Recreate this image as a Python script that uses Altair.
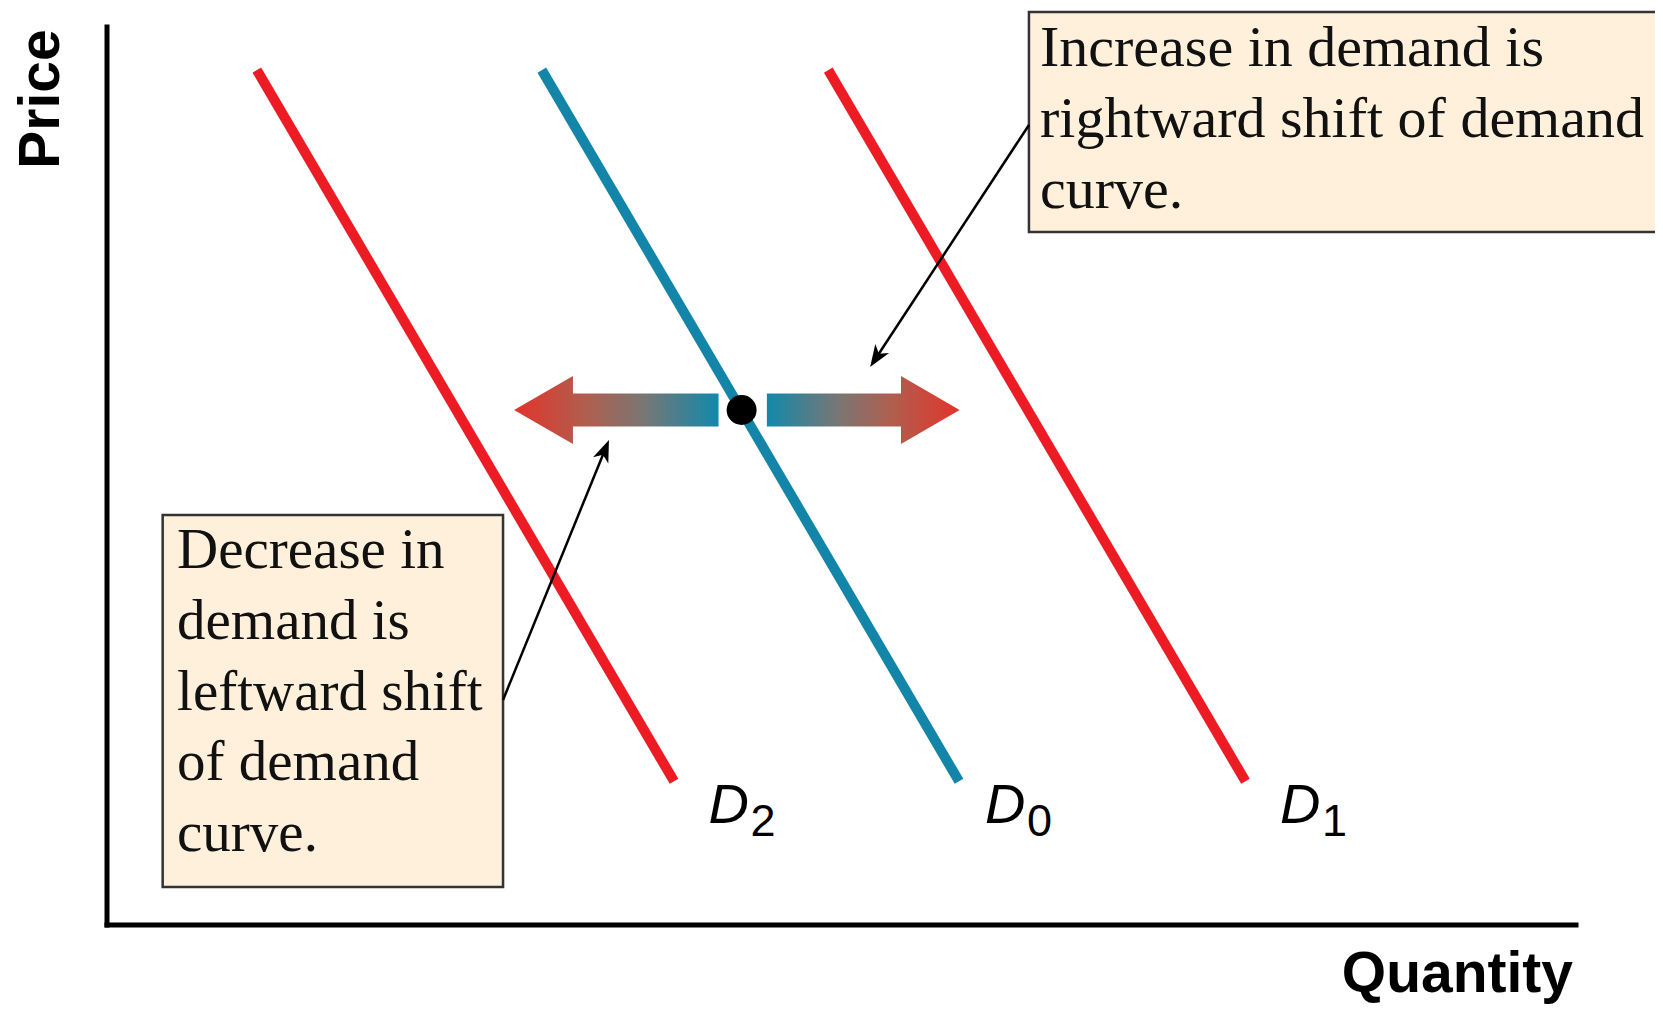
import math
import altair as alt
import pandas as pd

# ---------------- data ----------------
curve_names = ["D2", "D0", "D1"]
curve_q_top = [10.2, 29.6, 49.1]
curve_q_bottom = [38.6, 58.0, 77.5]
curve_p_top = [95.2, 95.2, 95.2]
curve_p_bottom = [16.0, 16.0, 16.0]
curve_colors = ["#ED1C24", "#1285A8", "#ED1C24"]

label_main = ["D", "D", "D"]
label_sub = ["2", "0", "1"]
label_q = [40.95, 59.77, 79.85]
label_p = [11.36, 11.36, 11.36]

eq_q = [43.2]
eq_p = [57.35]

# shift arrows (tip / head base / shaft start / shaft end), ordered by quantity
arrow_p = 57.35
arrow_shaft_half = 1.84
arrow_head_half = 3.79
left_arrow_q = [27.71, 31.72, 31.7201, 41.63]
right_arrow_q = [44.92, 54.05, 54.0501, 58.04]

# callout boxes
box_names = ["increase", "decrease"]
box_q1 = [62.76, 3.79]
box_q2 = [112.0, 26.96]
box_p1 = [77.17, 4.23]
box_p2 = [101.67, 45.66]
box_text_q = [63.51, 4.77]
box_text_p = [95.66, 39.76]
box_font_size = [58, 57]
box_lines = [
    ["Increase in demand is", "rightward shift of demand", "curve."],
    ["Decrease in", "demand is", "leftward shift", "of demand", "curve."],
]

# pointer lines: from box edge to arrow tip
pointer_q_from = [62.76, 26.96]
pointer_p_from = [89.09, 25.06]
pointer_q_to = [51.95, 34.17]
pointer_p_to = [62.14, 54.01]

x_title = "Quantity"
y_title = "Price"

# ---------------- layout ----------------
W, H = 1469, 898
PX_Q = W / 100.0
PX_P = H / 100.0

xs = alt.Scale(domain=[0, 100], nice=False, zero=False)
ys = alt.Scale(domain=[0, 100], nice=False, zero=False)


def X(f="q"):
    return alt.X(f"{f}:Q", scale=xs, axis=None)


def Y(f="p"):
    return alt.Y(f"{f}:Q", scale=ys, axis=None)


# axes lines
axes_df = pd.DataFrame({"q": [0, 0], "p": [0, 0], "q2": [0, 100], "p2": [100, 0]})
axes = alt.Chart(axes_df).mark_rule(color="black", strokeWidth=5, strokeCap="square").encode(
    x=X(), y=Y(), x2="q2:Q", y2="p2:Q"
)

# demand curves
curves_df = pd.DataFrame({
    "name": curve_names, "q": curve_q_top, "p": curve_p_top,
    "q2": curve_q_bottom, "p2": curve_p_bottom,
})
curves = alt.Chart(curves_df).mark_rule(strokeWidth=10, strokeCap="butt").encode(
    x=X(), y=Y(), x2="q2:Q", y2="p2:Q",
    color=alt.Color("name:N", scale=alt.Scale(domain=curve_names, range=curve_colors), legend=None),
)

# labels
lab_df = pd.DataFrame({"q": label_q, "p": label_p, "main": label_main, "sub": label_sub})
lab_main = alt.Chart(lab_df).mark_text(
    font="Liberation Sans", fontSize=56, fontStyle="italic", align="left", baseline="alphabetic", color="black"
).encode(x=X(), y=Y(), text="main:N")
lab_sub = alt.Chart(lab_df).mark_text(
    font="Liberation Sans", fontSize=45, align="left", baseline="alphabetic", color="black", dx=42, dy=13
).encode(x=X(), y=Y(), text="sub:N")

# shift arrows (gradient)
sh, hh, p0 = arrow_shaft_half, arrow_head_half, arrow_p
left_df = pd.DataFrame({
    "q": left_arrow_q,
    "p": [p0, p0 + hh, p0 + sh, p0 + sh],
    "p2": [p0, p0 - hh, p0 - sh, p0 - sh],
})
right_df = pd.DataFrame({
    "q": right_arrow_q,
    "p": [p0 + sh, p0 + sh, p0 + hh, p0],
    "p2": [p0 - sh, p0 - sh, p0 - hh, p0],
})
stops_red_to_blue = [
    alt.GradientStop(offset=0, color="#E3342B"),
    alt.GradientStop(offset=0.35, color="#B05E4E"),
    alt.GradientStop(offset=0.62, color="#7C7673"),
    alt.GradientStop(offset=1, color="#1189AA"),
]
stops_blue_to_red = [
    alt.GradientStop(offset=0, color="#1189AA"),
    alt.GradientStop(offset=0.38, color="#7C7673"),
    alt.GradientStop(offset=0.65, color="#B05E4E"),
    alt.GradientStop(offset=1, color="#E3342B"),
]
left_arrow = alt.Chart(left_df).mark_area(
    fill=alt.LinearGradient(gradient="linear", stops=stops_red_to_blue, x1=0, x2=1, y1=0, y2=0),
    interpolate="linear", fillOpacity=1,
).encode(x=X(), y=Y(), y2="p2:Q")
right_arrow = alt.Chart(right_df).mark_area(
    fill=alt.LinearGradient(gradient="linear", stops=stops_blue_to_red, x1=0, x2=1, y1=0, y2=0),
    interpolate="linear", fillOpacity=1,
).encode(x=X(), y=Y(), y2="p2:Q")

# equilibrium dot
eq_df = pd.DataFrame({"q": eq_q, "p": eq_p})
dot = alt.Chart(eq_df).mark_point(filled=True, color="black", size=900, opacity=1, shape="circle").encode(
    x=X(), y=Y()
)

# callout boxes
box_df = pd.DataFrame({"name": box_names, "q": box_q1, "q2": box_q2, "p": box_p1, "p2": box_p2})
boxes = alt.Chart(box_df).mark_rect(fill="#FEF0DA", stroke="#333333", strokeWidth=2.5).encode(
    x=X(), x2="q2:Q", y=Y(), y2="p2:Q"
)
txt_df = pd.DataFrame({
    "q": box_text_q, "p": box_text_p, "fs": box_font_size,
    "t": ["\n".join(l) for l in box_lines],
})
box_txt = alt.Chart(txt_df).mark_text(
    font="Liberation Serif", align="left", baseline="alphabetic",
    lineBreak="\n", lineHeight=70.8, color="#111111",
).encode(x=X(), y=Y(), text="t:N", size=alt.Size("fs:Q", scale=None))

# pointer lines with arrowheads
ang, lq, lp = [], [], []
for q1, p1, q2, p2 in zip(pointer_q_from, pointer_p_from, pointer_q_to, pointer_p_to):
    dx = (q2 - q1) * PX_Q
    dy = -(p2 - p1) * PX_P
    L = math.hypot(dx, dy)
    ang.append(math.degrees(math.atan2(dx, -dy)) % 360)
    back = 14.0
    lq.append(q2 - dx / L * back / PX_Q)
    lp.append(p2 + dy / L * back / PX_P)
ptr_df = pd.DataFrame({"q": pointer_q_from, "p": pointer_p_from, "q2": lq, "p2": lp})
pointers = alt.Chart(ptr_df).mark_rule(color="black", strokeWidth=2.5).encode(
    x=X(), y=Y(), x2="q2:Q", y2="p2:Q"
)
head_df = pd.DataFrame({"q": pointer_q_to, "p": pointer_p_to, "ang": ang})
heads = alt.Chart(head_df).mark_point(
    shape="M0,0 L0.75,2 L0,1.45 L-0.75,2 Z", filled=True, color="black", size=484, opacity=1, strokeWidth=0
).encode(x=X(), y=Y(), angle=alt.Angle("ang:Q", scale=None))

# axis titles
ttl_df = pd.DataFrame({"q": [99.8], "p": [-7.5], "t": [x_title]})
x_ttl = alt.Chart(ttl_df).mark_text(
    font="Liberation Sans", fontSize=57, fontWeight="bold", align="right", baseline="alphabetic", color="black"
).encode(x=X(), y=Y(), text="t:N")
yt_df = pd.DataFrame({"q": [-3.3], "p": [91.98], "t": [y_title]})
y_ttl = alt.Chart(yt_df).mark_text(
    font="Liberation Sans", fontSize=57, fontWeight="bold", align="center", baseline="alphabetic",
    angle=270, color="black"
).encode(x=X(), y=Y(), text="t:N")

chart = alt.layer(
    boxes, box_txt, axes, curves, left_arrow, right_arrow, dot, pointers, heads,
    lab_main, lab_sub, x_ttl, y_ttl,
).properties(
    width=W, height=H,
    padding={"left": 99, "top": 19, "right": 79, "bottom": 80},
    autosize=alt.AutoSizeParams(type="none"),
).configure_view(stroke=None)

chart.save("out.html", embed_options={"renderer": "svg", "actions": False})
